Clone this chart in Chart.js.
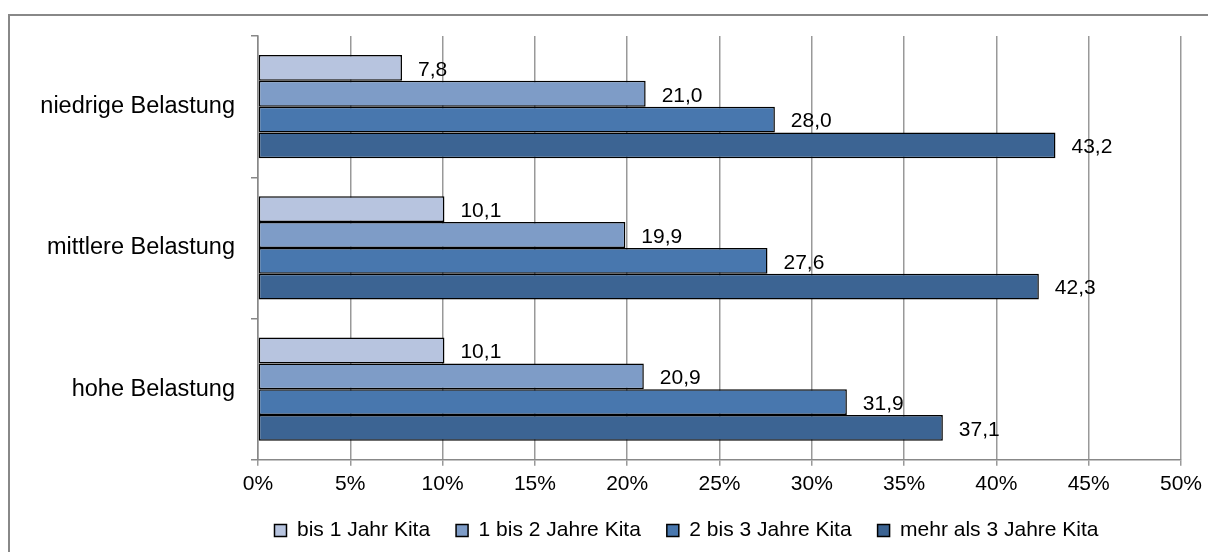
<!DOCTYPE html>
<html>
<head>
<meta charset="utf-8">
<script src="https://cdn.jsdelivr.net/npm/chart.js@4.4.1/dist/chart.umd.min.js"></script>
<style>
  html, body { margin: 0; padding: 0; background: #ffffff; }
  #wrap { position: relative; width: 1208px; height: 552px; }
</style>
</head>
<body>
<div id="wrap"><canvas id="c" width="1208" height="552"></canvas></div>
<script>
// Anteil der Kinder nach Dauer des Kita-Besuchs, je Belastungsgruppe (in %)
const categories = ['niedrige Belastung', 'mittlere Belastung', 'hohe Belastung'];
const seriesNames = ['bis 1 Jahr Kita', '1 bis 2 Jahre Kita', '2 bis 3 Jahre Kita', 'mehr als 3 Jahre Kita'];
const bis1Jahr   = [7.8, 10.1, 10.1];
const bis2Jahre  = [21.0, 19.9, 20.9];
const bis3Jahre  = [28.0, 27.6, 31.9];
const mehrAls3   = [43.2, 42.3, 37.1];
const xTicks = [0, 5, 10, 15, 20, 25, 30, 35, 40, 45, 50];

const colors = ['#b7c4df', '#7e9cc7', '#4877ae', '#3c6493'];
const FONT = "'Liberation Sans', Arial, sans-serif";
const PAD_LEFT = 20;
const AXIS_X = 258;

const seriesValues = [bis1Jahr, bis2Jahre, bis3Jahre, mehrAls3];
const datasets = seriesNames.map((name, i) => ({
  label: name,
  data: seriesValues[i],
  backgroundColor: colors[i],
  borderColor: '#000000',
  borderWidth: 1.5,
  borderSkipped: false,
  categoryPercentage: 0.73,
  barPercentage: 1.0
}));

// outer frame of the chart
const framePlugin = {
  id: 'frame',
  beforeDraw(chart) {
    const ctx = chart.ctx;
    ctx.save();
    ctx.strokeStyle = '#888888';
    ctx.lineWidth = 2;
    ctx.beginPath();
    ctx.moveTo(9, 560);
    ctx.lineTo(9, 15);
    ctx.lineTo(1210, 15);
    ctx.stroke();
    ctx.restore();
  }
};

// legend sits slightly right of the canvas centre
const legendShift = {
  id: 'legendShift',
  afterLayout(chart) {
    const lg = chart.legend;
    if (lg) { lg.left += 75; lg.right += 75; }
  }
};

// value labels to the right of each bar
const valueLabels = {
  id: 'valueLabels',
  afterDatasetsDraw(chart) {
    const ctx = chart.ctx;
    ctx.save();
    ctx.font = '21px ' + FONT;
    ctx.fillStyle = '#000000';
    ctx.textAlign = 'left';
    ctx.textBaseline = 'middle';
    chart.data.datasets.forEach((ds, di) => {
      const meta = chart.getDatasetMeta(di);
      meta.data.forEach((bar, idx) => {
        const v = ds.data[idx];
        const txt = v.toFixed(1).replace('.', ',');
        ctx.fillText(txt, bar.x + 16, bar.y + 2);
      });
    });
    ctx.restore();
  }
};

new Chart(document.getElementById('c'), {
  type: 'bar',
  data: { labels: categories, datasets },
  options: {
    indexAxis: 'y',
    responsive: false,
    animation: false,
    layout: { padding: { left: PAD_LEFT, right: 5, top: 36, bottom: 1 } },
    plugins: {
      legend: {
        position: 'bottom',
        labels: {
          font: { family: FONT, size: 21 },
          color: '#000000',
          boxWidth: 12,
          boxHeight: 12,
          padding: 26,
          generateLabels(chart) {
            return chart.data.datasets.map((ds, i) => ({
              text: ds.label,
              fillStyle: ds.backgroundColor,
              strokeStyle: '#000000',
              lineWidth: 1.5,
              datasetIndex: i
            }));
          }
        }
      },
      tooltip: { enabled: false }
    },
    scales: {
      x: {
        min: 0,
        max: 50,
        afterBuildTicks(scale) { scale.ticks = xTicks.map(v => ({ value: v })); },
        afterFit(scale) { scale.height -= 9; },
        ticks: {
          callback: v => v + '%',
          font: { family: FONT, size: 21 },
          color: '#000000',
          padding: 6,
          maxRotation: 0
        },
        grid: { color: '#999999', lineWidth: 1.5, tickLength: 6 },
        border: { color: '#888888', width: 1.5 }
      },
      y: {
        afterFit(scale) { scale.width = AXIS_X - PAD_LEFT; },
        ticks: {
          font: { family: FONT, size: 23.5 },
          color: '#000000',
          padding: 16
        },
        grid: { display: true, drawOnChartArea: false, color: '#888888', lineWidth: 1.5, tickLength: 7, offset: true },
        border: { color: '#888888', width: 1.5 }
      }
    }
  },
  plugins: [framePlugin, legendShift, valueLabels]
});
</script>
</body>
</html>
